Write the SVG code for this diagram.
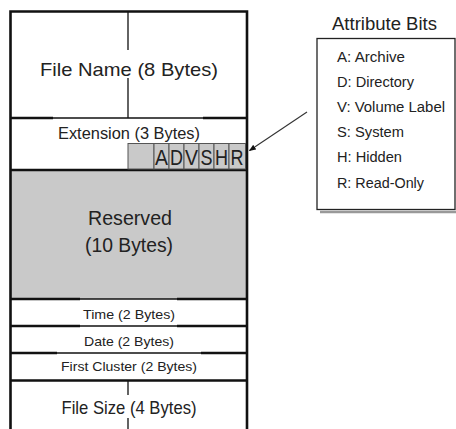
<svg xmlns="http://www.w3.org/2000/svg" width="456" height="429" viewBox="0 0 456 429">
<defs>
<style>
text{font-family:"Liberation Sans",Arial,sans-serif;fill:#222}
.thick{stroke:#111;stroke-width:2.6;fill:none}
.thin{stroke:#111;stroke-width:1.3;fill:none}
.cell{fill:#c9c9c9;stroke:#555;stroke-width:1}
.bit{font-size:22px;text-anchor:middle}
.attr{font-size:14px}
.mid{text-anchor:middle}
</style>
<marker id="ah" viewBox="0 0 10 10" refX="9" refY="5" markerWidth="7" markerHeight="7" orient="auto" markerUnits="userSpaceOnUse">
<path d="M0,1 L10,5 L0,9 Z" fill="#111"/>
</marker>
</defs>
<rect width="456" height="429" fill="#fff"/>

<g id="reserved-fill">
<rect x="10.5" y="170" width="236.5" height="129" fill="#c9c9c9"/>
</g>

<g id="frame">
<path class="thick" d="M10.5,429 V11.5 H247 V429"/>
<path class="thick" d="M10.5,170 H247 M10.5,380.5 H247"/>
<path class="thick" d="M10.5,118 H53 M203,118 H247"/>
<path class="thin" d="M53,118 H203"/>
<path class="thick" d="M10.5,299 H80 M177,299 H247"/>
<path class="thin" d="M80,299 H177"/>
<path class="thick" d="M10.5,326 H80 M177,326 H247"/>
<path class="thin" d="M80,326 H177"/>
<path class="thick" d="M10.5,353 H57 M201,353 H247"/>
<path class="thin" d="M57,353 H201"/>
</g>

<g id="file-name">
<path class="thin" d="M128,12 V50 M128,78 V118"/>
<text x="129" y="76" class="mid" font-size="19" textLength="178" lengthAdjust="spacingAndGlyphs">File Name (8 Bytes)</text>
</g>

<g id="extension">
<text x="129" y="139" class="mid" font-size="16" textLength="142" lengthAdjust="spacingAndGlyphs">Extension (3 Bytes)</text>
<rect class="cell" x="128" y="143.5" width="26" height="25.5"/>
<rect class="cell" x="154" y="143.5" width="15" height="25.5"/>
<rect class="cell" x="169" y="143.5" width="15" height="25.5"/>
<rect class="cell" x="184" y="143.5" width="15" height="25.5"/>
<rect class="cell" x="199" y="143.5" width="15" height="25.5"/>
<rect class="cell" x="214" y="143.5" width="15" height="25.5"/>
<rect class="cell" x="229" y="143.5" width="16.5" height="25.5"/>
<text class="bit" x="161.5" y="164.5" textLength="13" lengthAdjust="spacingAndGlyphs">A</text>
<text class="bit" x="176.5" y="164.5" textLength="13" lengthAdjust="spacingAndGlyphs">D</text>
<text class="bit" x="191.5" y="164.5" textLength="13" lengthAdjust="spacingAndGlyphs">V</text>
<text class="bit" x="206.5" y="164.5" textLength="12" lengthAdjust="spacingAndGlyphs">S</text>
<text class="bit" x="221.5" y="164.5" textLength="13" lengthAdjust="spacingAndGlyphs">H</text>
<text class="bit" x="237" y="164.5" textLength="13" lengthAdjust="spacingAndGlyphs">R</text>
</g>

<g id="reserved">
<text x="130" y="224.5" class="mid" font-size="20" textLength="84" lengthAdjust="spacingAndGlyphs">Reserved</text>
<text x="129" y="251.5" class="mid" font-size="20" textLength="88" lengthAdjust="spacingAndGlyphs">(10 Bytes)</text>
</g>

<g id="time">
<text x="129" y="318.5" class="mid" font-size="13" textLength="92" lengthAdjust="spacingAndGlyphs">Time (2 Bytes)</text>
</g>

<g id="date">
<text x="129" y="345.5" class="mid" font-size="13" textLength="90" lengthAdjust="spacingAndGlyphs">Date (2 Bytes)</text>
</g>

<g id="first-cluster">
<text x="129" y="371" class="mid" font-size="13" textLength="136" lengthAdjust="spacingAndGlyphs">First Cluster (2 Bytes)</text>
</g>

<g id="file-size">
<path class="thin" d="M128,381 V395 M128,418 V429"/>
<text x="129" y="413.5" class="mid" font-size="19" textLength="135" lengthAdjust="spacingAndGlyphs">File Size (4 Bytes)</text>
</g>

<g id="attribute-bits">
<text x="384.5" y="29.5" class="mid" font-size="18" textLength="105" lengthAdjust="spacingAndGlyphs">Attribute Bits</text>
<path d="M320,212 H456" stroke="#999" stroke-width="2.5" fill="none"/>
<rect x="317" y="38.5" width="138" height="171" fill="#fff" stroke="#222" stroke-width="1.3"/>
<text class="attr" x="337" y="62.3" textLength="68" lengthAdjust="spacingAndGlyphs">A: Archive</text>
<text class="attr" x="337" y="87.3" textLength="77" lengthAdjust="spacingAndGlyphs">D: Directory</text>
<text class="attr" x="337" y="112.3" textLength="108" lengthAdjust="spacingAndGlyphs">V: Volume Label</text>
<text class="attr" x="337" y="137.3" textLength="67" lengthAdjust="spacingAndGlyphs">S: System</text>
<text class="attr" x="337" y="162.3" textLength="65" lengthAdjust="spacingAndGlyphs">H: Hidden</text>
<text class="attr" x="337" y="187.5" textLength="87" lengthAdjust="spacingAndGlyphs">R: Read-Only</text>
</g>

<g id="connectors">
<line x1="307" y1="112" x2="249.5" y2="150.5" stroke="#333" stroke-width="1.1" marker-end="url(#ah)"/>
</g>
</svg>
